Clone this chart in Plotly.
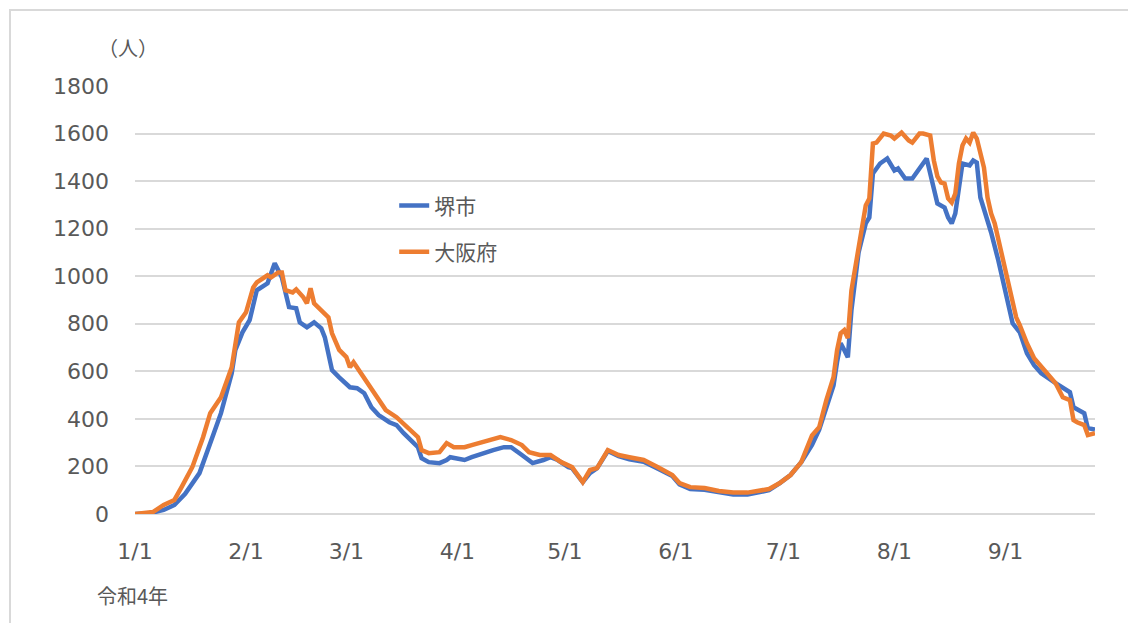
import plotly.graph_objects as go
import pandas as pd

# Days since 2022-01-01 (令和4年1月1日) and 7-day average values
sakai_day = [0, 4, 8, 11, 14, 18, 22, 24, 27, 28, 30, 32, 34, 37, 39, 41, 43, 45, 46, 48,
             50, 52, 53, 55, 57, 60, 62, 64, 66, 68, 71, 73, 75, 78, 79, 80, 82, 85, 87, 88,
             90, 92, 94, 97, 100, 103, 105, 108, 111, 114, 116, 118, 121, 122, 125, 127, 129, 132, 135, 138,
             142, 146, 150, 152, 155, 159, 163, 167, 171, 177, 180, 183, 186, 189, 191, 193, 195, 196, 197, 198,
             199, 200, 202, 204, 205, 206, 208, 210, 212, 213, 215, 217, 219, 221, 222, 224, 226, 227, 228, 229,
             231, 233, 234, 235, 236, 238, 239, 241, 243, 245, 247, 249, 251, 253, 257, 259, 261, 262, 265, 266, 268]
sakai_val = [0, 3, 17, 38, 85, 172, 340, 424, 592, 689, 764, 815, 941, 970, 1054, 995, 870, 865, 806, 785,
             806, 781, 743, 605, 575, 533, 529, 508, 449, 416, 386, 374, 340, 298, 281, 235, 218, 214, 227, 239,
             235, 227, 239, 256, 269, 281, 281, 248, 214, 227, 239, 227, 197, 193, 134, 172, 193, 265, 243, 230,
             220, 190, 160, 125, 105, 102, 90, 82, 82, 100, 130, 164, 218, 290, 355, 450, 540, 640, 718, 690,
             659, 857, 1100, 1222, 1247, 1432, 1474, 1495, 1445, 1453, 1411, 1411, 1453, 1495, 1432, 1306, 1289, 1247, 1222, 1264,
             1474, 1466, 1487, 1478, 1331, 1235, 1184, 1067, 928, 802, 764, 676, 626, 592, 550, 529, 512, 449, 424, 361, 355]

osaka_day = [0, 5, 8, 11, 13, 16, 19, 21, 24, 27, 29, 31, 33, 34, 37, 38, 40, 41, 42, 44,
             45, 47, 48, 49, 50, 52, 54, 55, 57, 59, 60, 61, 63, 65, 68, 70, 73, 76, 79, 80,
             82, 85, 87, 89, 92, 94, 97, 100, 102, 105, 108, 110, 113, 116, 119, 122, 125, 127, 129, 132,
             135, 138, 142, 146, 150, 152, 155, 159, 163, 167, 171, 177, 180, 183, 186, 189, 191, 193, 195, 196,
             197, 198, 199, 200, 201, 203, 204, 205, 206, 207, 209, 211, 212, 214, 216, 217, 219, 220, 222, 223,
             224, 225, 226, 227, 228, 229, 230, 231, 232, 233, 234, 235, 237, 238, 239, 240, 242, 244, 246, 247,
             249, 251, 254, 257, 259, 261, 262, 263, 265, 266, 268]
osaka_val = [0, 8, 38, 59, 113, 197, 323, 424, 491, 617, 806, 848, 953, 974, 1004, 995, 1016, 1016, 941, 932,
             945, 911, 886, 949, 886, 857, 827, 760, 690, 660, 617, 638, 592, 554, 479, 437, 407, 365, 323, 269,
             256, 260, 298, 281, 281, 290, 302, 311, 323, 311, 290, 260, 248, 248, 218, 197, 134, 185, 193, 269,
             248, 239, 227, 197, 164, 130, 113, 109, 97, 90, 90, 105, 130, 164, 218, 330, 365, 479, 575, 689,
             760, 773, 740, 940, 1037, 1222, 1298, 1327, 1558, 1562, 1600, 1592, 1579, 1604, 1571, 1562, 1600, 1600, 1592, 1487,
             1420, 1394, 1390, 1327, 1310, 1348, 1474, 1550, 1579, 1562, 1604, 1579, 1457, 1331, 1264, 1222, 1096, 953, 827, 794,
             718, 655, 605, 550, 491, 479, 395, 386, 374, 332, 340]

series_names = ["堺市", "大阪府"]
y_ticks = [0, 200, 400, 600, 800, 1000, 1200, 1400, 1600, 1800]

start = pd.Timestamp("2022-01-01")
sakai_dates = [start + pd.Timedelta(days=d) for d in sakai_day]
osaka_dates = [start + pd.Timedelta(days=d) for d in osaka_day]

FONT = "DejaVu Sans"
TXT = "#595959"

fig = go.Figure()
fig.add_trace(go.Scatter(x=sakai_dates, y=sakai_val, mode="lines", name=series_names[0],
                         legendgroup="a", line=dict(color="#4472C4", width=4.5)))
fig.add_trace(go.Scatter(x=osaka_dates, y=osaka_val, mode="lines", name=series_names[1],
                         legendgroup="b", line=dict(color="#ED7D31", width=4.5)))

fig.update_layout(
    width=1128, height=615,
    margin=dict(l=127, r=41, t=78, b=109),
    paper_bgcolor="white", plot_bgcolor="white",
    font=dict(family=FONT, size=22, color=TXT),
    showlegend=True,
    legend=dict(x=0.27, y=0.768, xanchor="left", yanchor="top",
                font=dict(family="Noto Sans CJK JP", size=21, color=TXT),
                tracegroupgap=16, bgcolor="rgba(0,0,0,0)"),
    xaxis=dict(type="date", range=[start, start + pd.Timedelta(days=268)],
               tick0="2022-01-01", dtick="M1", tickformat="%-m/%-d",
               showgrid=False, zeroline=False, showline=False, ticks="",
               ticklabelstandoff=22, tickfont=dict(size=22, color=TXT)),
    yaxis=dict(range=[0, 1800], tickvals=y_ticks, showgrid=True, gridcolor="#d9d9d9",
               gridwidth=1.5, zeroline=True, zerolinecolor="#d9d9d9", zerolinewidth=1.5,
               showline=False, ticks="", ticklabelstandoff=25, tickfont=dict(size=22, color=TXT)),
    shapes=[dict(type="rect", xref="paper", yref="paper", x0=-0.1302, x1=1.06, y0=-0.3, y1=1.1776,
                 line=dict(color="#d9d9d9", width=2), fillcolor="rgba(0,0,0,0)", layer="below")],
    annotations=[
        dict(text="（人）", xref="paper", yref="paper", x=-0.007, y=1.09, xanchor="center", yanchor="middle",
             showarrow=False, font=dict(family="Noto Sans CJK JP", size=20, color=TXT)),
        dict(text="令和4年", xref="paper", yref="paper", x=-0.042, y=-0.19, xanchor="left", yanchor="middle",
             showarrow=False, font=dict(family="Noto Sans CJK JP", size=20, color=TXT)),
    ],
)

fig.write_html("out.html")
